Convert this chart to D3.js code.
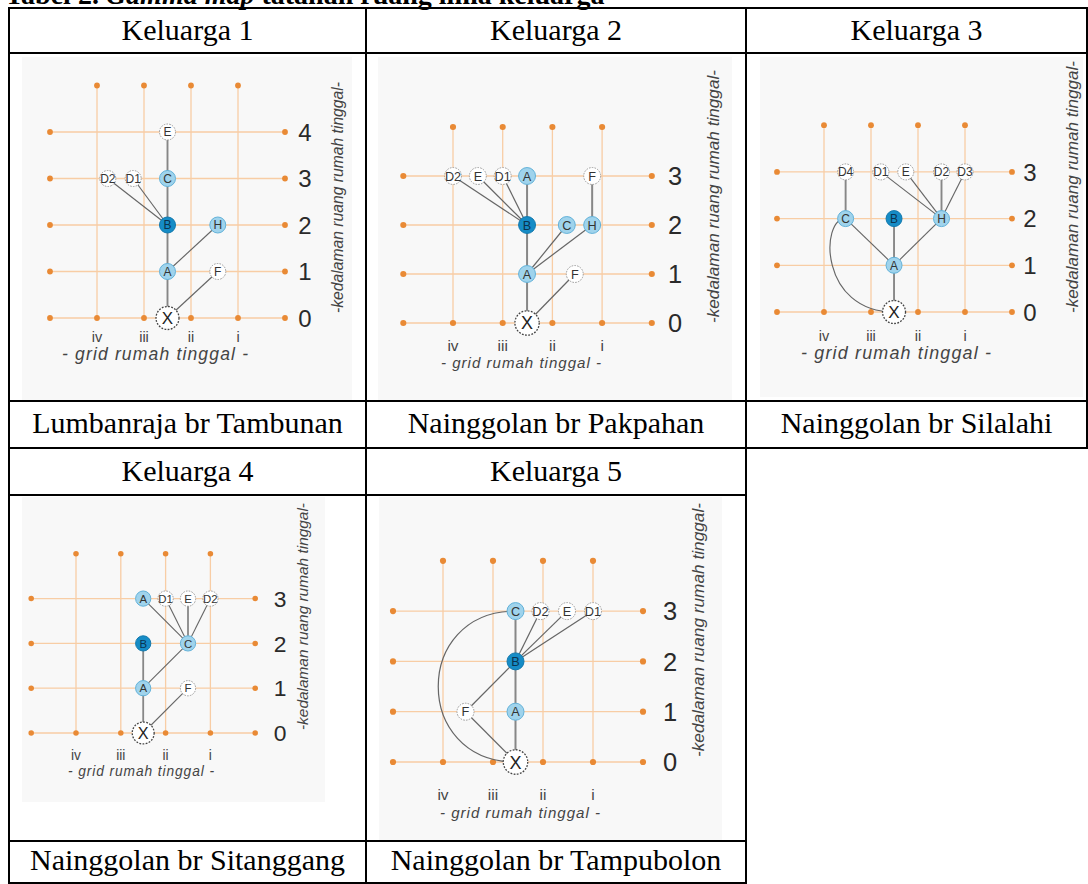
<!DOCTYPE html>
<html>
<head>
<meta charset="utf-8">
<script src="https://cdnjs.cloudflare.com/ajax/libs/d3/7.8.5/d3.min.js"></script>
<style>
body { margin: 0; background: #fff; }
svg { display: block; }
</style>
</head>
<body>
<div id="chart"></div>
<script>
// table texts
var keluarga = ["Keluarga 1", "Keluarga 2", "Keluarga 3", "Keluarga 4", "Keluarga 5"];
var namaKeluarga = ["Lumbanraja br Tambunan", "Nainggolan br Pakpahan", "Nainggolan br Silalahi",
                    "Nainggolan br Sitanggang", "Nainggolan br Tampubolon"];
var colLabels = ["iv", "iii", "ii", "i"];
var levelCount = [4, 3, 3, 3, 3];

// nodes: [id, label, grid column (0 = iv ... 3 = i), depth level, kind]
var nodes1 = [
  ["E", "E", 1.5, 4, "w"], ["D2", "D2", 0.23, 3, "w"], ["D1", "D1", 0.77, 3, "w"], ["C", "C", 1.5, 3, "b"],
  ["B", "B", 1.5, 2, "d"], ["H", "H", 2.57, 2, "b"], ["A", "A", 1.5, 1, "b"], ["F", "F", 2.57, 1, "w"],
  ["X", "X", 1.5, 0, "x"]
];
var links1 = [["E", "C"], ["C", "B"], ["D2", "B"], ["D1", "B"], ["B", "A"], ["A", "H"], ["A", "X"], ["X", "F"]];

var nodes2 = [
  ["D2", "D2", 0, 3, "w"], ["E", "E", 0.5, 3, "w"], ["D1", "D1", 1.0, 3, "w"], ["A3", "A", 1.49, 3, "b"],
  ["F3", "F", 2.8, 3, "w"], ["B", "B", 1.49, 2, "d"], ["C", "C", 2.29, 2, "b"], ["H", "H", 2.8, 2, "b"],
  ["A1", "A", 1.49, 1, "b"], ["F1", "F", 2.45, 1, "w"], ["X", "X", 1.49, 0, "x"]
];
var links2 = [["A3", "B"], ["D2", "B"], ["E", "B"], ["D1", "B"], ["B", "A1"], ["A1", "C"], ["A1", "H"],
              ["H", "F3"], ["A1", "X"], ["X", "F1"]];

var nodes3 = [
  ["D4", "D4", 0.46, 3, "w"], ["D1", "D1", 1.21, 3, "w"], ["E", "E", 1.74, 3, "w"], ["D2", "D2", 2.5, 3, "w"],
  ["D3", "D3", 3.0, 3, "w"], ["C", "C", 0.46, 2, "b"], ["B", "B", 1.49, 2, "d"], ["H", "H", 2.5, 2, "b"],
  ["A", "A", 1.49, 1, "b"], ["X", "X", 1.49, 0, "x"]
];
var links3 = [["D4", "C"], ["C", "A"], ["B", "A"], ["H", "A"], ["D1", "H"], ["E", "H"], ["D2", "H"],
              ["D3", "H"], ["A", "X"], ["C", "X", 0.55]];

var nodes4 = [
  ["A3", "A", 1.5, 3, "b"], ["D1", "D1", 2.0, 3, "w"], ["E", "E", 2.5, 3, "w"], ["D2", "D2", 3.0, 3, "w"],
  ["B", "B", 1.5, 2, "d"], ["C", "C", 2.5, 2, "b"], ["A1", "A", 1.5, 1, "b"], ["F", "F", 2.5, 1, "w"],
  ["X", "X", 1.5, 0, "x"]
];
var links4 = [["A3", "C"], ["D1", "C"], ["E", "C"], ["D2", "C"], ["B", "A1"], ["C", "A1"], ["A1", "X"], ["X", "F"]];

var nodes5 = [
  ["C", "C", 1.45, 3, "b"], ["D2", "D2", 1.95, 3, "w"], ["E", "E", 2.48, 3, "w"], ["D1", "D1", 3.0, 3, "w"],
  ["B", "B", 1.45, 2, "d"], ["F", "F", 0.45, 1, "w"], ["A", "A", 1.45, 1, "b"], ["X", "X", 1.45, 0, "x"]
];
var links5 = [["C", "B"], ["D2", "B"], ["E", "B"], ["D1", "B"], ["B", "F"], ["B", "A"], ["A", "X"],
              ["F", "X"], ["C", "X", 2.06]];

var allNodes = [nodes1, nodes2, nodes3, nodes4, nodes5];
var allLinks = [links1, links2, links3, links4, links5];

// layout of the picture inside each cell
var layout = [
  {bg: [22, 57, 352, 400],   x0: 97,  dx: 47,   y0: 318, dy: 46.5, labX: 305,  vlabX: 337,  vlabY: 313, vlabL: 231, colY: 337, gridY: 353, gridX: 155, gridL: 186},
  {bg: [378, 57, 732, 400],  x0: 453, dx: 49.7, y0: 323, dy: 49,   labX: 675,  vlabX: 713,  vlabY: 323, vlabL: 253, colY: 345, gridY: 362, gridX: 521, gridL: 160},
  {bg: [760, 57, 1083, 397], x0: 824, dx: 47,   y0: 312, dy: 46.7, labX: 1030, vlabX: 1072, vlabY: 313, vlabL: 252, colY: 336, gridY: 352, gridX: 896, gridL: 190},
  {bg: [22, 497, 325, 802],  x0: 76,  dx: 44.8, y0: 733, dy: 44.8, labX: 280,  vlabX: 302,  vlabY: 730, vlabL: 227, colY: 755, gridY: 770, gridX: 141, gridL: 146},
  {bg: [379, 497, 722, 841], x0: 443, dx: 50,   y0: 762, dy: 50.3, labX: 670,  vlabX: 698,  vlabY: 757, vlabL: 254, colY: 794, gridY: 812, gridX: 520, gridL: 160}
];

var W = 1088, H = 884;
var svg = d3.select("#chart").append("svg").attr("width", W).attr("height", H);

var serif = "'Liberation Serif', 'Times New Roman', serif";
var sans = "'Liberation Sans', Arial, Helvetica, sans-serif";

// caption, cut at the top edge
var cap = svg.append("text").attr("x", 5).attr("y", 4)
  .attr("font-family", serif).attr("font-size", 28).attr("font-weight", "bold").attr("fill", "#000");
cap.append("tspan").text("Tabel 2. ");
cap.append("tspan").attr("font-style", "italic").text("Gamma map");
cap.append("tspan").text(" tatanan ruang lima keluarga");

// table cells
var colX = [9, 366, 746, 1087];
var rowY = [8, 53, 401, 448, 495, 841, 883];

var cells = [];
keluarga.forEach(function(k, i) {
  var r = i < 3 ? 0 : 1, c = i % 3;
  cells.push({x1: colX[c], x2: colX[c + 1], head: [rowY[r * 3], rowY[r * 3 + 1]], name: [rowY[r * 3 + 2], rowY[r * 3 + 3]], k: k, n: namaKeluarga[i]});
});

// picture backgrounds
layout.forEach(function(L) {
  svg.append("rect").attr("x", L.bg[0]).attr("y", L.bg[1])
    .attr("width", L.bg[2] - L.bg[0]).attr("height", L.bg[3] - L.bg[1])
    .attr("fill", "#f8f8f8");
});

var tableTxt = svg.append("g").attr("font-family", serif).attr("font-size", 30).attr("fill", "#000")
  .attr("text-anchor", "middle");
cells.forEach(function(c) {
  tableTxt.append("text").attr("x", (c.x1 + c.x2) / 2).attr("y", (c.head[0] + c.head[1]) / 2 + 9).text(c.k);
  tableTxt.append("text").attr("x", (c.x1 + c.x2) / 2).attr("y", (c.name[0] + c.name[1]) / 2 + 8).text(c.n);
});

// draw one gamma map
function drawPanel(i) {
  var L = layout[i], n = levelCount[i];
  var x = d3.scaleLinear().domain([0, 3]).range([L.x0, L.x0 + 3 * L.dx]);
  var y = d3.scaleLinear().domain([0, n]).range([L.y0, L.y0 - n * L.dy]);
  var s = L.dx / 47;
  var g = svg.append("g");

  var cols = d3.range(4), levels = d3.range(n + 1);
  g.selectAll("line.v").data(cols).join("line")
    .attr("x1", d => x(d)).attr("x2", d => x(d)).attr("y1", y(n + 1)).attr("y2", y(0))
    .attr("stroke", "#f8cda5").attr("stroke-width", 1.3);
  g.selectAll("line.h").data(levels).join("line")
    .attr("x1", x(-1)).attr("x2", x(4)).attr("y1", d => y(d)).attr("y2", d => y(d))
    .attr("stroke", "#f8cda5").attr("stroke-width", 1.3);

  var dots = [];
  cols.forEach(c => { dots.push([c, n + 1]); dots.push([c, 0]); });
  levels.forEach(l => { dots.push([-1, l]); dots.push([4, l]); });
  g.selectAll("circle.dot").data(dots).join("circle")
    .attr("cx", d => x(d[0])).attr("cy", d => y(d[1])).attr("r", 2.9 * s)
    .attr("fill", "#e98a35");

  var byId = {};
  allNodes[i].forEach(d => { byId[d[0]] = d; });
  function trunk(l) { return l[2] === undefined && byId[l[0]][2] === byId[l[1]][2]; }

  g.selectAll("path.link").data(allLinks[i]).join("path")
    .attr("d", function(l) {
      var a = byId[l[0]], b = byId[l[1]];
      var ax = x(a[2]), ay = y(a[3]), bx = x(b[2]), by = y(b[3]);
      if (l[2] === undefined) return "M" + ax + "," + ay + "L" + bx + "," + by;
      var cx = x(Math.min(a[2], b[2]) - l[2]);
      return "M" + ax + "," + ay + "C" + cx + "," + ay + " " + cx + "," + by + " " + bx + "," + by;
    })
    .attr("fill", "none")
    .attr("stroke", l => (trunk(l) ? "#878787" : "#666"))
    .attr("stroke-width", l => (trunk(l) ? 1.9 : 1.15) * s);

  var nd = g.selectAll("g.node").data(allNodes[i]).join("g")
    .attr("transform", d => "translate(" + x(d[2]) + "," + y(d[3]) + ")");
  nd.append("circle")
    .attr("r", d => (d[4] === "x" ? 11.5 : 8) * s)
    .attr("fill", d => ({w: "#ffffff", b: "#9fd3ec", d: "#168cc6", x: "#ffffff"})[d[4]])
    .attr("stroke", d => ({w: "#9a9a9a", b: "#63b2d9", d: "#1479ad", x: "#444"})[d[4]])
    .attr("stroke-width", d => (d[4] === "x" ? 1.3 : 1))
    .attr("stroke-dasharray", d => (d[4] === "w" ? "1.6,1.2" : d[4] === "x" ? "1.8,1.4" : null));
  nd.append("text")
    .attr("text-anchor", "middle").attr("dy", "0.36em")
    .attr("font-family", sans)
    .attr("font-size", d => (d[4] === "x" ? 17 : 12) * s)
    .attr("fill", d => (d[4] === "d" ? "#0b3450" : d[4] === "x" ? "#222" : "#333"))
    .text(d => d[1]);

  // depth numbers
  g.selectAll("text.lv").data(levels).join("text")
    .attr("x", L.labX).attr("y", d => y(d)).attr("dy", "0.36em")
    .attr("text-anchor", "middle").attr("font-family", sans).attr("font-size", 24 * s)
    .attr("fill", "#2a2a2a").text(d => d);

  // grid column names
  g.selectAll("text.col").data(colLabels).join("text")
    .attr("x", (d, j) => x(j)).attr("y", L.colY).attr("dy", "0.36em")
    .attr("text-anchor", "middle").attr("font-family", sans).attr("font-size", 14.5 * s)
    .attr("fill", "#444").text(d => d);

  g.append("text").attr("x", L.gridX).attr("y", L.gridY + 1).attr("dy", "0.36em")
    .attr("text-anchor", "middle").attr("font-family", sans).attr("font-style", "italic")
    .attr("font-size", L.gridL / 10.6).attr("fill", "#444")
    .attr("textLength", L.gridL).attr("lengthAdjust", "spacing")
    .text("- grid rumah tinggal -");

  g.append("text")
    .attr("transform", "translate(" + L.vlabX + "," + L.vlabY + ") rotate(-90)")
    .attr("dy", "0.36em").attr("font-family", sans).attr("font-style", "italic")
    .attr("font-size", L.vlabL / 14.7).attr("fill", "#444")
    .attr("textLength", L.vlabL).attr("lengthAdjust", "spacing")
    .text("-kedalaman ruang rumah tinggal-");
}

d3.range(5).forEach(drawPanel);

// table rules
var rules = svg.append("g").attr("stroke", "#000").attr("stroke-width", 2);
[[9, 1087, 8], [9, 1087, 53], [9, 1087, 401], [9, 1087, 448], [9, 746, 495], [9, 746, 841], [9, 746, 883]]
  .forEach(function(r) { rules.append("line").attr("x1", r[0] - 1).attr("x2", r[1] + 1).attr("y1", r[2]).attr("y2", r[2]); });
[[9, 8, 883], [366, 8, 883], [746, 8, 883], [1087, 8, 448]]
  .forEach(function(r) { rules.append("line").attr("x1", r[0]).attr("x2", r[0]).attr("y1", r[1]).attr("y2", r[2]); });
</script>
</body>
</html>
